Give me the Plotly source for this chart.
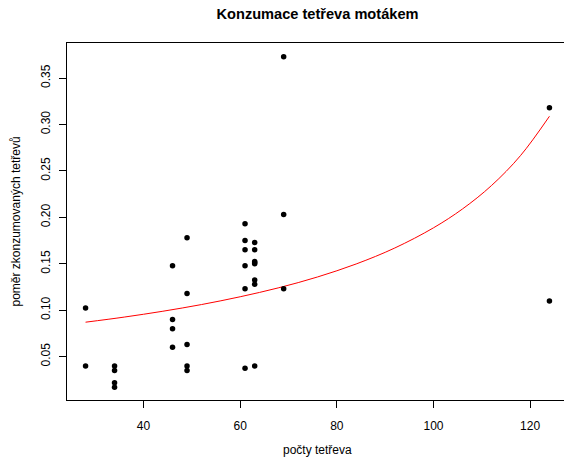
import plotly.graph_objects as go

# Observed points (počty tetřeva, poměr zkonzumovaných tetřevů)
pocty = [28, 28,
         34, 34, 34, 34,
         46, 46, 46, 46,
         49, 49, 49, 49, 49,
         61, 61, 61, 61, 61, 61,
         63, 63, 63, 63, 63, 63, 63, 63,
         69, 69, 69,
         124, 124]
pomer = [0.1025, 0.040,
         0.040, 0.035, 0.022, 0.017,
         0.148, 0.090, 0.080, 0.060,
         0.178, 0.118, 0.063, 0.040, 0.035,
         0.193, 0.175, 0.165, 0.148, 0.123, 0.0375,
         0.173, 0.165, 0.1525, 0.151, 0.150, 0.1325, 0.128, 0.040,
         0.373, 0.203, 0.123,
         0.318, 0.110]

# Fitted curve, values
krivka_x = [28, 36, 44, 52, 60, 68, 76, 84, 92, 100, 106, 112, 118, 124]
krivka_y = [0.0871, 0.0926, 0.0989, 0.1061, 0.1145, 0.1242, 0.1358, 0.1498,
            0.1670, 0.1887, 0.2090, 0.2342, 0.2664, 0.3088]

x_ticks = [40, 60, 80, 100, 120]
y_ticks = [0.05, 0.10, 0.15, 0.20, 0.25, 0.30, 0.35]
y_tick_labels = ["0.05", "0.10", "0.15", "0.20", "0.25", "0.30", "0.35"]

FONT = "Liberation Sans, Arial, Helvetica, sans-serif"

fig = go.Figure()
fig.add_trace(go.Scatter(x=krivka_x, y=krivka_y, mode="lines",
                         line=dict(color="red", width=1, shape="spline", smoothing=1.0),
                         hoverinfo="skip", showlegend=False))
fig.add_trace(go.Scatter(x=pocty, y=pomer, mode="markers",
                         marker=dict(color="black", size=5.5, line=dict(width=0)),
                         showlegend=False))

fig.update_layout(
    width=568, height=461,
    margin=dict(l=67, r=0, t=43, b=61),
    paper_bgcolor="white", plot_bgcolor="white",
    font=dict(family=FONT, size=12, color="black"),
    title=dict(text="<b>Konzumace tetřeva motákem</b>", x=0.5, xref="paper",
               xanchor="center", y=1 - 14 / 461, yref="container", yanchor="middle",
               font=dict(size=14.6, family=FONT, color="black")),
    xaxis=dict(range=[24.16, 127.84], tickvals=x_ticks, showgrid=False, zeroline=False,
               showline=True, mirror=True, linecolor="black", linewidth=1,
               ticks="outside", ticklen=7, tickwidth=1, tickcolor="black",
               ticklabelstandoff=8, automargin=False,
               tickfont=dict(size=12, family=FONT, color="black")),
    yaxis=dict(range=[0.00334, 0.3877], tickvals=y_ticks, ticktext=y_tick_labels,
               tickangle=-90, showgrid=False, zeroline=False,
               showline=True, mirror=True, linecolor="black", linewidth=1,
               ticks="outside", ticklen=7, tickwidth=1, tickcolor="black",
               ticklabelstandoff=4, automargin=False,
               tickfont=dict(size=12, family=FONT, color="black")),
    annotations=[
        dict(text="počty tetřeva", xref="paper", yref="paper", x=0.5, y=(400 - 450) / 357,
             xanchor="center", yanchor="middle", showarrow=False,
             font=dict(size=12, family=FONT, color="black")),
        dict(text="poměr zkonzumovaných tetřevů", xref="paper", yref="paper",
             x=(15 - 67) / 501, y=0.5, textangle=-90,
             xanchor="center", yanchor="middle", showarrow=False,
             font=dict(size=12, family=FONT, color="black")),
    ],
)

fig.write_html("out.html",
               config={"displayModeBar": False},
               post_script="document.body.style.margin='0';document.body.style.overflow='hidden';")
